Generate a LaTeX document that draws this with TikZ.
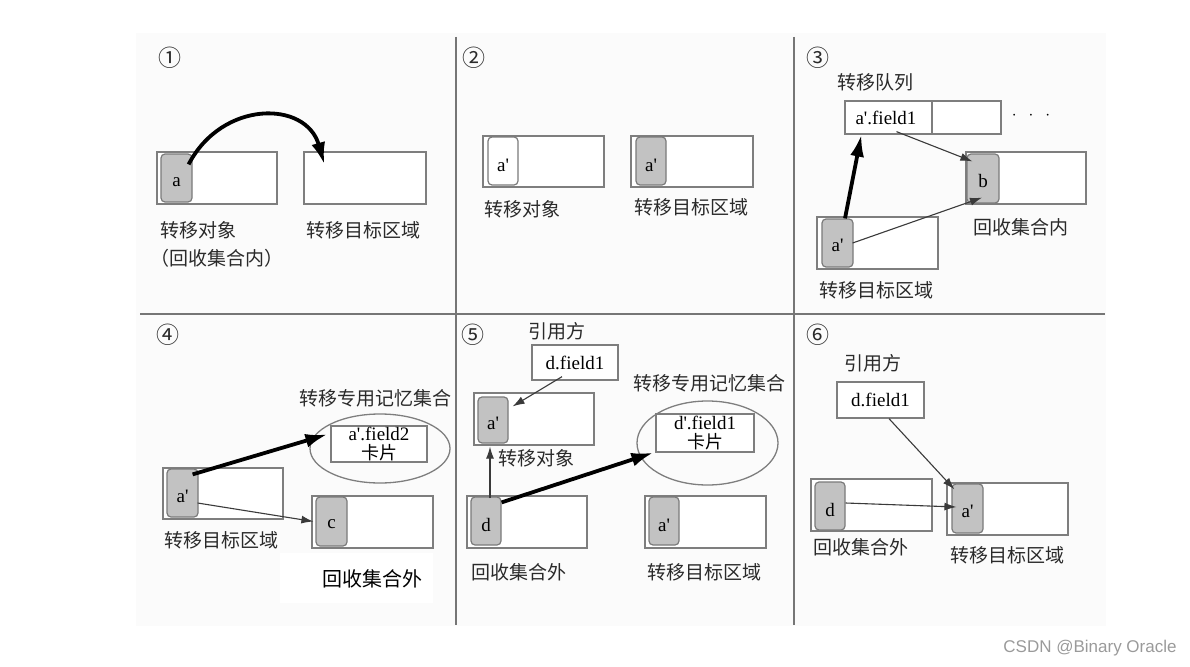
\documentclass[tikz,border=0pt]{standalone}
\usepackage{fontspec}
\setmainfont{Liberation Serif}
\newfontfamily\cjk{Noto Sans CJK SC}
\newfontfamily\wmf{Liberation Sans}
\usetikzlibrary{arrows.meta,shapes.geometric}
\definecolor{boxc}{HTML}{7E7E7E}
\definecolor{objd}{HTML}{7A7A7A}
\definecolor{objf}{HTML}{C2C2C2}
\definecolor{arrc}{HTML}{3A3A3A}
\definecolor{gridc}{HTML}{767676}
\definecolor{bgc}{HTML}{FBFBFB}
\definecolor{txtc}{HTML}{2A2A2A}
\definecolor{wmc}{HTML}{9A9A9A}
\newcommand\ap{\textquotesingle}
\begin{document}
\begin{tikzpicture}[x=1pt,y=-1pt,
 rg/.style 2 args={draw=boxc,line width=1.3pt,fill=white,inner sep=0pt,minimum width=#1,minimum height=#2},
 ob/.style 2 args={draw=objd,fill=objf,rounded corners=4pt,line width=1.2pt,inner sep=0pt,minimum width=#1,minimum height=#2},
 obw/.style 2 args={ob={#1}{#2},fill=white},
 lat/.style={font=\fontsize{19}{21}\selectfont,text=black,inner sep=0pt},
 zh/.style={font=\cjk\fontsize{19}{22}\selectfont,text=txtc,inner sep=0pt},
 num/.style={font=\cjk\fontsize{23}{24}\selectfont,text=txtc,inner sep=0pt},
 card/.style 2 args={draw=boxc,line width=1.3pt,fill=white,inner sep=0pt,minimum width=#1,minimum height=#2,align=center,font=\fontsize{19}{19}\selectfont},
 ell/.style 2 args={ellipse,draw=boxc,line width=1.3pt,inner sep=0pt,minimum width=#1,minimum height=#2},
 thinarrow/.style={draw=arrc,line width=1.1pt,-{Latex[length=12pt,width=8pt]}},
 thickarrow/.style={draw=black,line width=3.8pt,-{Latex[length=22pt,width=14pt]}},
 gridline/.style={draw=gridc,line width=1.2pt},
]
\useasboundingbox (0,0) rectangle (1190,666);
\fill[bgc] (136,33) rectangle (1106,626);
\fill[white] (280,553) rectangle (433,603);

% grid
\draw[gridline] (456,37) -- (456,625);
\draw[gridline] (794,37) -- (794,625);
\draw[gridline] (140,314) -- (1105,314);

% panel numbers
\node[num] (n1) at (170,58) {①};
\node[num] (n2) at (474,58) {②};
\node[num] (n3) at (818,58) {③};
\node[num] (n4) at (168,335) {④};
\node[num] (n5) at (473,335) {⑤};
\node[num] (n6) at (818,335) {⑥};

% ---------- panel 1
\node[rg={120pt}{52pt}] (r1a) at (217,178) {};
\node[ob={31pt}{48pt}] (o1) at (176.5,178) {};
\node[lat] (l1) at ([yshift=-4pt]o1.center) {a};
\node[rg={122pt}{52pt}] (r1b) at (365,178) {};
\node[zh] (t1a) at (198.5,230) {转移对象};
\node[zh] (t1b) at (217,258) {（回收集合内）};
\node[zh] (t1c) at (363.5,230) {转移目标区域};
\draw[thickarrow] ([shift={(-4,11)}]o1.north east) .. controls (222,100) and (306,100) .. ([shift={(21,13)}]r1b.north west);

% ---------- panel 2
\node[rg={121pt}{51pt}] (r2a) at (543.5,161.5) {};
\node[obw={30pt}{48pt}] (o2a) at (503,161) {};
\node[lat] (l2a) at ([yshift=-4pt]o2a.center) {a\ap};
\node[rg={122pt}{51pt}] (r2b) at (692,161.5) {};
\node[ob={30pt}{48pt}] (o2b) at (651,161) {};
\node[lat] (l2b) at ([yshift=-4pt]o2b.center) {a\ap};
\node[zh] (t2a) at (522,209) {转移对象};
\node[zh] (t2b) at (691,207) {转移目标区域};

% ---------- panel 3
\node[zh] (t3q) at (875.5,82) {转移队列};
\node[rg={87pt}{33pt}] (q1) at (888.5,117.5) {};
\node[rg={69pt}{33pt}] (q2) at (966.5,117.5) {};
\node[lat] (lq1) at (886,118) {a\ap.field1};
\node[lat] (dots) at (1031,116) {$\cdot$\hspace{12pt}$\cdot$\hspace{12pt}$\cdot$};
\node[rg={120pt}{52pt}] (r3b) at (1026,178) {};
\node[ob={32pt}{49pt}] (o3b) at (983,178.5) {};
\node[lat] (l3b) at ([yshift=-2pt]o3b.center) {b};
\node[zh] (t3b) at (1020.5,227) {回收集合内};
\node[rg={121pt}{52pt}] (r3a) at (877.5,243) {};
\node[ob={31pt}{48pt}] (o3a) at (837.5,243) {};
\node[lat] (l3a) at ([yshift=-2pt]o3a.center) {a\ap};
\node[zh] (t3a) at (876,290) {转移目标区域};
\draw[thickarrow] ([xshift=7.5pt]o3a.north) -- ([xshift=17pt]q1.south west);
\draw[thinarrow] ([shift={(8,-3)}]q1.south) -- ([shift={(6,8)}]o3b.north west);
\draw[thinarrow] ([xshift=-1pt]o3a.east) -- ([shift={(-1,-6)}]o3b.south);

% ---------- panel 4
\node[zh] (t4m) at (375,398) {转移专用记忆集合};
\node[ell={140pt}{69pt}] (e4) at (380,448.5) {};
\node[card={96pt}{36pt}] (c4) at (379,444) {a\ap.field2\\{\cjk\fontsize{18}{19}\selectfont 卡片}};
\node[rg={120pt}{51pt}] (r4a) at (223,493.5) {};
\node[ob={31pt}{48pt}] (o4a) at (182.5,493) {};
\node[lat] (l4a) at ([yshift=-3pt]o4a.center) {a\ap};
\node[zh] (t4a) at (221.5,540) {转移目标区域};
\node[rg={121pt}{52pt}] (r4c) at (372.5,522) {};
\node[ob={31pt}{49pt}] (o4c) at (331.5,521.5) {};
\node[lat] (l4c) at ([yshift=-3pt]o4c.center) {c};
\node[font=\cjk\fontsize{20}{22}\selectfont,text=black,inner sep=0pt] (t4c) at (372,579) {回收集合外};
\draw[thickarrow] ([shift={(-6,6)}]o4a.north east) -- ([shift={(-3,9)}]c4.north west);
\draw[thinarrow] ([shift={(-1,10)}]o4a.east) -- ([xshift=-2pt]o4c.west);

% ---------- panel 5
\node[zh] (t5r) at (556.5,331) {引用方};
\node[rg={86pt}{35pt}] (df5) at (575,362.5) {};
\node[lat] (ldf5) at (575,363) {d.field1};
\node[zh] (t5m) at (709.5,383) {转移专用记忆集合};
\node[rg={120pt}{52pt}] (r5a) at (534,419) {};
\node[ob={30pt}{46pt}] (o5a) at (493,420) {};
\node[lat] (l5a) at ([yshift=-3pt]o5a.center) {a\ap};
\node[zh] (t5a) at (536,458) {转移对象};
\node[ell={141pt}{84pt}] (e5) at (707.5,443) {};
\node[card={98pt}{38pt}] (c5) at (705,433) {d\ap.field1\\{\cjk\fontsize{18}{18}\selectfont 卡片}};
\node[rg={120pt}{52pt}] (r5d) at (527,522) {};
\node[ob={30pt}{48pt}] (o5d) at (486,521) {};
\node[lat] (l5d) at ([yshift=-4pt]o5d.center) {d};
\node[zh] (t5d) at (519,572) {回收集合外};
\node[rg={121pt}{52pt}] (r5t) at (705.5,522) {};
\node[ob={30pt}{48pt}] (o5t) at (664,521) {};
\node[lat] (l5t) at ([yshift=-4pt]o5t.center) {a\ap};
\node[zh] (t5t) at (704,572) {转移目标区域};
\draw[thinarrow] ([shift={(-13,-4)}]df5.south) -- ([shift={(4,10)}]o5a.north east);
\draw[thinarrow] ([shift={(4,2)}]o5d.north) -- ([shift={(-3,3)}]o5a.south);
\draw[thickarrow] ([yshift=-6pt]o5d.north east) -- ([xshift=-2pt]c5.south west);

% ---------- panel 6
\node[zh] (t6r) at (873,363) {引用方};
\node[rg={87pt}{36pt}] (df6) at (880.5,400) {};
\node[lat] (ldf6) at (880.5,400) {d.field1};
\node[rg={121pt}{52pt}] (r6d) at (871.5,505) {};
\node[ob={30pt}{48pt}] (o6d) at (830,506) {};
\node[lat] (l6d) at ([yshift=-4pt]o6d.center) {d};
\node[zh] (t6d) at (860.5,547) {回收集合外};
\node[rg={121pt}{52pt}] (r6t) at (1007.5,509) {};
\node[ob={31pt}{49pt}] (o6t) at (967.5,508.5) {};
\node[lat] (l6t) at ([yshift=-3pt]o6t.center) {a\ap};
\node[zh] (t6t) at (1007,555) {转移目标区域};
\draw[thinarrow] ([xshift=8.5pt]df6.south) -- ([shift={(3,6)}]o6t.north west);
\draw[thinarrow] ([yshift=3pt]o6d.east) -- ([shift={(5,-1.5)}]o6t.west);

% watermark
\node[font=\wmf\fontsize{17}{20}\selectfont,text=wmc,inner sep=0pt] (wm) at (1090,648) {CSDN @Binary Oracle};
\end{tikzpicture}
\end{document}
